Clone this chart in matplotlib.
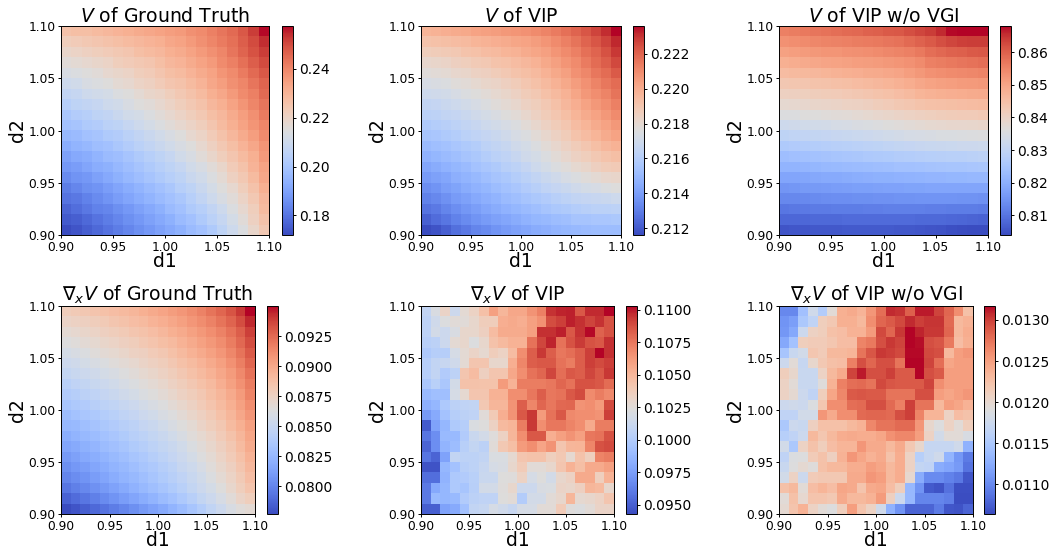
import numpy as np
import matplotlib
matplotlib.use("Agg")
import matplotlib.pyplot as plt

W, H = 1055, 549
titles = [r"$V$ of Ground Truth", r"$V$ of VIP", r"$V$ of VIP w/o VGI",
          r"$\nabla_x V$ of Ground Truth", r"$\nabla_x V$ of VIP", r"$\nabla_x V$ of VIP w/o VGI"]
ticks = [0.90, 0.95, 1.00, 1.05, 1.10]

# values, top row (d2=1.10) first; integer units given by the scale lists below
v_truth = [
[226,227,227,228,229,230,231,232,233,234,235,236,238,239,241,243,245,248,252,257],
[222,223,224,225,226,227,228,229,230,231,233,234,236,238,240,242,244,247,250,254],
[219,220,221,222,223,224,225,227,228,229,231,232,234,236,238,240,243,246,249,252],
[216,217,218,219,220,222,223,224,225,227,229,230,232,234,236,239,241,244,247,250],
[213,214,215,216,218,219,220,222,223,225,227,228,230,232,234,237,239,242,245,248],
[210,211,213,214,215,217,218,220,221,223,225,226,228,230,233,235,238,240,243,246],
[207,208,210,211,212,214,215,217,219,220,222,224,226,228,231,233,236,239,241,245],
[204,206,207,208,210,211,213,215,216,218,220,222,224,226,229,231,234,237,240,243],
[201,203,204,206,207,209,211,212,214,216,218,220,222,224,227,229,232,235,238,242],
[199,200,202,203,205,206,208,210,212,214,216,218,220,222,225,228,231,234,237,240],
[196,197,199,200,202,203,205,207,209,211,213,215,218,220,223,226,229,232,235,239],
[193,195,196,198,199,201,203,205,207,209,211,213,215,218,221,224,227,230,233,237],
[190,192,193,195,197,198,200,202,204,206,208,211,213,216,219,222,225,228,231,236],
[188,189,191,193,194,196,198,200,202,204,206,208,211,213,216,219,223,226,230,234],
[185,187,188,190,192,194,196,198,200,202,204,206,209,211,214,217,221,224,228,233],
[182,184,186,187,189,191,193,195,197,199,201,204,206,209,212,215,218,222,226,231],
[180,181,183,185,187,189,191,193,195,197,199,201,204,207,210,213,216,220,224,229],
[177,179,181,183,184,186,188,190,192,194,197,199,202,204,207,210,214,218,222,228],
[175,176,178,180,182,184,186,188,190,192,194,197,199,202,205,208,212,216,221,226],
[172,174,176,178,180,182,184,186,188,190,192,194,197,199,202,206,210,214,219,224],
]
v_vip = [
[2197,2198,2199,2200,2201,2203,2204,2205,2206,2207,2208,2210,2212,2214,2217,2220,2223,2227,2231,2236],
[2191,2192,2193,2194,2195,2197,2198,2199,2200,2202,2203,2205,2207,2210,2213,2216,2220,2223,2227,2232],
[2186,2187,2188,2189,2191,2192,2194,2195,2197,2198,2200,2202,2204,2207,2210,2213,2217,2220,2224,2229],
[2181,2182,2183,2185,2186,2188,2189,2191,2192,2194,2196,2198,2201,2204,2207,2210,2214,2218,2221,2226],
[2177,2178,2179,2181,2182,2184,2185,2187,2189,2191,2193,2195,2198,2201,2204,2208,2211,2215,2218,2222],
[2173,2174,2175,2177,2178,2180,2182,2183,2185,2187,2190,2192,2195,2198,2201,2205,2208,2212,2215,2218],
[2169,2170,2171,2173,2175,2176,2178,2180,2182,2184,2187,2189,2192,2195,2198,2202,2206,2209,2212,2216],
[2165,2166,2168,2169,2171,2173,2175,2177,2179,2181,2184,2186,2189,2192,2196,2199,2203,2206,2209,2213],
[2162,2163,2165,2166,2168,2170,2172,2174,2176,2178,2181,2184,2187,2190,2193,2197,2200,2203,2206,2210],
[2158,2160,2161,2163,2165,2167,2169,2171,2173,2175,2178,2181,2184,2187,2190,2194,2197,2200,2203,2206],
[2155,2156,2158,2160,2162,2164,2166,2168,2170,2173,2175,2178,2181,2184,2187,2191,2194,2197,2200,2203],
[2151,2153,2154,2156,2158,2160,2163,2165,2167,2170,2172,2175,2178,2181,2184,2187,2190,2193,2196,2198],
[2147,2149,2151,2153,2155,2157,2160,2162,2164,2167,2170,2172,2175,2178,2181,2184,2186,2189,2191,2193],
[2143,2145,2147,2149,2151,2154,2156,2158,2161,2163,2166,2169,2172,2175,2177,2180,2182,2185,2187,2188],
[2139,2141,2143,2146,2148,2150,2153,2155,2157,2160,2162,2165,2168,2170,2173,2175,2177,2179,2181,2182],
[2135,2137,2140,2142,2145,2147,2149,2152,2154,2156,2159,2161,2164,2166,2168,2170,2172,2173,2175,2176],
[2131,2133,2136,2139,2141,2144,2146,2148,2151,2153,2155,2157,2159,2161,2163,2165,2166,2167,2168,2169],
[2127,2129,2132,2135,2138,2140,2143,2145,2147,2149,2151,2153,2155,2157,2158,2160,2161,2162,2162,2163],
[2122,2125,2128,2131,2134,2137,2139,2141,2143,2145,2147,2149,2150,2152,2153,2155,2155,2156,2156,2157],
[2116,2118,2122,2126,2129,2132,2134,2137,2139,2141,2143,2145,2146,2148,2149,2150,2151,2152,2152,2152],
]
v_novgi = [
[8555,8560,8565,8570,8575,8580,8585,8590,8595,8600,8605,8610,8620,8630,8640,8655,8675,8680,8680,8680],
[8530,8535,8540,8545,8550,8553,8556,8560,8563,8566,8570,8575,8585,8595,8605,8620,8630,8635,8640,8640],
[8505,8510,8515,8520,8525,8527,8530,8533,8536,8540,8545,8550,8555,8565,8580,8590,8595,8600,8605,8610],
[8480,8485,8490,8495,8500,8503,8506,8510,8513,8516,8520,8525,8530,8540,8555,8560,8565,8570,8575,8580],
[8455,8460,8463,8466,8470,8475,8480,8484,8488,8492,8496,8500,8510,8520,8530,8535,8540,8543,8546,8550],
[8430,8433,8436,8440,8444,8448,8452,8456,8460,8465,8470,8478,8485,8495,8503,8508,8512,8515,8518,8520],
[8405,8408,8411,8415,8418,8422,8426,8430,8435,8440,8447,8454,8462,8470,8475,8480,8483,8486,8488,8490],
[8380,8383,8386,8390,8393,8396,8400,8404,8409,8415,8421,8428,8434,8440,8445,8449,8452,8454,8456,8458],
[8355,8357,8360,8362,8365,8368,8372,8376,8381,8386,8392,8397,8402,8407,8412,8416,8418,8420,8422,8425],
[8325,8328,8331,8334,8337,8340,8344,8348,8352,8357,8362,8367,8372,8376,8380,8383,8385,8387,8389,8392],
[8295,8298,8301,8304,8307,8310,8314,8318,8322,8327,8331,8336,8340,8344,8347,8350,8352,8354,8356,8358],
[8265,8268,8271,8274,8277,8280,8283,8287,8291,8295,8299,8303,8307,8310,8313,8316,8318,8320,8322,8325],
[8235,8238,8241,8244,8247,8250,8253,8257,8260,8263,8266,8270,8273,8276,8279,8281,8283,8285,8287,8290],
[8210,8212,8215,8217,8220,8223,8226,8229,8232,8235,8237,8240,8242,8244,8246,8248,8250,8252,8254,8256],
[8180,8182,8185,8187,8190,8192,8195,8198,8200,8203,8205,8207,8209,8211,8213,8215,8216,8217,8218,8219],
[8155,8157,8160,8162,8164,8166,8168,8170,8172,8174,8176,8177,8178,8179,8180,8181,8181,8182,8182,8182],
[8130,8132,8134,8136,8138,8140,8142,8143,8145,8146,8147,8148,8149,8150,8150,8150,8150,8149,8148,8147],
[8105,8107,8109,8110,8112,8113,8114,8115,8116,8117,8118,8118,8118,8118,8117,8116,8115,8114,8113,8112],
[8080,8081,8082,8083,8084,8085,8086,8086,8087,8087,8087,8087,8086,8085,8084,8083,8081,8079,8077,8075],
[8055,8056,8057,8058,8059,8059,8060,8060,8060,8060,8060,8059,8058,8056,8054,8051,8047,8043,8040,8040],
]
g_truth = [
[879,881,883,885,887,889,891,893,896,899,902,905,908,912,916,921,926,932,940,950],
[873,875,877,879,881,884,886,889,891,894,897,900,904,908,912,916,921,927,934,944],
[868,870,872,874,877,879,881,884,886,889,892,896,899,903,907,911,916,922,929,938],
[863,865,867,869,872,874,877,879,882,885,888,891,895,899,903,907,912,918,925,934],
[858,860,862,865,867,869,872,875,877,880,883,887,891,895,899,903,908,914,921,930],
[853,855,858,860,862,865,867,870,873,876,879,883,887,890,894,899,904,910,917,926],
[848,851,853,855,858,860,863,866,869,872,875,879,883,887,891,895,900,906,913,922],
[843,846,848,851,853,856,859,862,865,868,871,875,879,883,887,891,897,903,910,918],
[839,841,844,846,849,852,855,858,861,864,867,871,875,879,883,888,893,899,906,915],
[834,837,839,842,845,847,850,853,857,860,863,867,871,875,880,885,890,896,903,911],
[829,832,835,837,840,843,846,849,853,856,860,863,867,872,876,881,887,893,900,908],
[825,827,830,833,836,839,842,845,849,852,856,860,864,868,873,878,883,890,896,904],
[820,823,826,829,832,835,838,842,845,848,852,856,860,865,869,874,880,886,893,901],
[815,818,821,824,828,831,834,838,841,845,848,852,856,861,866,871,877,883,890,898],
[810,813,817,820,823,827,830,834,837,841,845,849,853,858,863,868,874,880,887,895],
[805,809,812,816,819,823,826,830,834,837,841,845,850,854,859,865,871,877,884,892],
[800,804,807,811,815,819,823,826,830,834,838,842,846,851,856,862,868,874,881,889],
[794,798,802,806,810,814,818,822,826,830,834,838,843,848,853,858,864,871,878,885],
[786,790,794,798,803,807,811,815,819,823,828,832,837,842,848,853,859,866,873,878],
[777,781,785,789,793,797,801,805,810,814,818,823,828,834,840,847,853,860,865,868],
]
g_vip = [
[1008,1020,1032,1013,1027,1033,1045,1060,1050,1057,1057,1065,1072,1095,1098,1099,1085,1097,1097,1103],
[1006,1015,1022,1025,1025,1030,1037,1037,1054,1056,1054,1060,1066,1088,1092,1099,1096,1091,1095,1087],
[1006,1017,1013,1020,1030,1030,1035,1047,1055,1055,1055,1060,1096,1096,1099,1085,1095,1102,1082,1087],
[1003,1005,1013,1027,1030,1022,1030,1044,1048,1052,1052,1077,1090,1098,1077,1087,1093,1087,1085,1096],
[998,1002,1002,1018,1027,1032,1028,1037,1033,1047,1067,1083,1094,1083,1075,1078,1083,1092,1103,1096],
[1002,1008,1011,1015,1027,1042,1042,1030,1030,1054,1070,1083,1085,1085,1077,1073,1083,1092,1089,1092],
[1002,1008,1000,1006,1042,1047,1035,1042,1042,1057,1067,1077,1081,1090,1078,1085,1083,1090,1085,1094],
[997,1004,997,1017,1044,1044,1043,1043,1062,1052,1073,1073,1073,1075,1081,1077,1087,1087,1085,1079],
[989,992,992,1018,1028,1042,1042,1052,1052,1067,1067,1075,1083,1075,1077,1085,1089,1068,1073,1069],
[983,987,998,1005,1007,1008,1040,1050,1050,1065,1083,1070,1081,1075,1080,1081,1065,1067,1062,1089],
[973,981,994,1002,1005,1007,1025,1039,1054,1065,1085,1094,1062,1077,1085,1069,1067,1067,1065,1092],
[948,977,987,999,1002,1021,1023,1034,1048,1051,1073,1094,1067,1075,1075,1071,1067,1056,1073,1073],
[958,968,989,989,1000,1012,1017,1024,1034,1050,1067,1085,1085,1054,1060,1065,1060,1075,1077,1087],
[952,968,986,991,1003,1009,1005,1025,1040,1046,1062,1067,1058,1065,1042,1050,1051,1070,1087,1089],
[958,952,977,1008,1006,1006,1008,1021,1021,1028,1042,1044,1044,1036,1040,1028,1044,1036,1071,1073],
[946,946,987,994,1003,1006,1011,1018,1020,1030,1038,1026,1026,1030,1042,1052,1046,1056,1056,1060],
[956,956,985,998,1000,1004,1012,1012,1023,1024,1033,1018,1023,1017,1030,1034,1056,1056,1036,1052],
[960,980,987,998,996,1003,1017,1017,1024,1030,1013,1013,1020,1021,1032,1031,1035,1050,1048,1030],
[960,989,987,989,1000,1005,1007,1007,1023,1026,1001,1017,1017,1026,1030,1050,1028,1030,1033,1042],
[950,950,977,981,993,1008,1010,1018,1015,1011,1018,1018,1026,1026,1038,1024,1022,1026,1032,1032],
]
g_novgi = [
[1100,1100,1143,1178,1155,1195,1238,1242,1235,1255,1278,1308,1305,1285,1312,1312,1298,1282,1260,1225],
[1108,1115,1150,1165,1212,1218,1238,1238,1232,1260,1282,1288,1296,1308,1300,1304,1304,1280,1232,1236],
[1110,1122,1175,1208,1212,1225,1228,1236,1236,1252,1296,1282,1303,1317,1310,1303,1303,1282,1232,1240],
[1122,1145,1212,1215,1215,1220,1228,1228,1266,1272,1293,1303,1298,1317,1315,1293,1290,1272,1228,1238],
[1148,1172,1180,1220,1215,1232,1232,1234,1275,1290,1303,1300,1296,1316,1316,1296,1293,1232,1250,1255],
[1175,1195,1170,1202,1218,1226,1228,1268,1293,1282,1293,1293,1275,1317,1317,1298,1278,1245,1250,1250],
[1212,1202,1172,1172,1207,1232,1242,1298,1312,1293,1293,1300,1288,1288,1317,1293,1288,1250,1250,1250],
[1207,1195,1172,1172,1192,1236,1268,1278,1280,1275,1296,1290,1288,1288,1288,1298,1260,1250,1250,1250],
[1207,1198,1175,1165,1212,1245,1264,1288,1290,1288,1288,1275,1275,1275,1293,1293,1250,1245,1250,1255],
[1175,1178,1175,1188,1220,1260,1260,1278,1280,1293,1293,1280,1268,1300,1275,1275,1232,1250,1245,1236],
[1165,1165,1180,1180,1255,1242,1260,1260,1280,1282,1282,1280,1293,1300,1266,1234,1234,1207,1228,1224],
[1150,1175,1172,1210,1225,1225,1225,1232,1236,1264,1275,1275,1280,1280,1255,1202,1190,1207,1195,1212],
[1158,1165,1175,1232,1220,1232,1240,1242,1240,1240,1245,1258,1264,1264,1250,1207,1180,1195,1195,1185],
[1180,1150,1207,1224,1212,1228,1234,1234,1255,1242,1242,1232,1242,1218,1202,1170,1170,1170,1178,1130],
[1165,1188,1190,1215,1224,1210,1236,1255,1245,1236,1242,1224,1240,1207,1158,1170,1178,1132,1110,1092],
[1172,1190,1198,1192,1225,1232,1232,1240,1240,1250,1245,1232,1240,1207,1168,1165,1125,1120,1112,1087],
[1180,1207,1175,1215,1218,1218,1218,1242,1242,1255,1250,1232,1240,1200,1125,1102,1102,1096,1090,1070],
[1225,1232,1195,1228,1234,1228,1245,1242,1222,1242,1245,1228,1212,1135,1108,1072,1068,1086,1066,1066],
[1195,1225,1200,1222,1222,1218,1242,1232,1232,1236,1252,1210,1175,1135,1098,1098,1098,1094,1065,1065],
[1198,1222,1236,1207,1195,1190,1212,1250,1222,1207,1178,1130,1108,1078,1078,1078,1092,1070,1068,1078],
]
grids = [v_truth, v_vip, v_novgi, g_truth, g_vip, g_novgi]
scales = [1e-3, 1e-4, 1e-4, 1e-4, 1e-4, 1e-5]
vlims = [(0.172, 0.2575), (0.2116, 0.2236), (0.804, 0.868),
         (0.0777, 0.0950), (0.0943, 0.1103), (0.01064, 0.01317)]
cticks = [[0.18, 0.20, 0.22, 0.24],
          [0.212, 0.214, 0.216, 0.218, 0.220, 0.222],
          [0.81, 0.82, 0.83, 0.84, 0.85, 0.86],
          [0.0800, 0.0825, 0.0850, 0.0875, 0.0900, 0.0925],
          [0.0950, 0.0975, 0.1000, 0.1025, 0.1050, 0.1075, 0.1100],
          [0.0110, 0.0115, 0.0120, 0.0125, 0.0130]]
cfmt = ["%.2f", "%.3f", "%.2f", "%.4f", "%.4f", "%.4f"]

# pixel boxes: (x0, x1, y0, y1) for image and colorbar
boxes = [(61, 269, 26, 235), (421, 621, 26, 235), (779, 988, 26, 235),
         (61, 255, 306, 514), (421, 614, 306, 514), (779, 973, 306, 514)]
cboxes = [(282, 293), (633, 644), (1000, 1011), (267, 278), (626, 637), (984, 995)]

fig = plt.figure(figsize=(W / 100, H / 100), dpi=100)


def add(x0, x1, y0, y1):
    return fig.add_axes([x0 / W, 1 - y1 / H, (x1 - x0) / W, (y1 - y0) / H])


for i in range(6):
    x0, x1, y0, y1 = boxes[i]
    ax = add(x0, x1, y0, y1)
    data = np.array(grids[i], dtype=float) * scales[i]
    im = ax.imshow(data, cmap="coolwarm", extent=[0.90, 1.10, 0.90, 1.10], aspect="auto",
                   vmin=vlims[i][0], vmax=vlims[i][1], interpolation="nearest")
    ax.set_xticks(ticks)
    ax.set_yticks(ticks)
    ax.set_xticklabels(["%.2f" % t for t in ticks], fontsize=8.8)
    ax.set_yticklabels(["%.2f" % t for t in ticks], fontsize=8.8)
    ax.tick_params(length=2.5, width=0.7, pad=1.5)
    ax.set_xlabel("d1", fontsize=13.5, labelpad=-1)
    ax.set_ylabel("d2", fontsize=13.5, labelpad=1)
    ax.set_title(titles[i], fontsize=13.6, pad=2.5)
    for s in ax.spines.values():
        s.set_linewidth(0.7)
    cax = add(cboxes[i][0], cboxes[i][1], y0, y1)
    cb = fig.colorbar(im, cax=cax, ticks=cticks[i], format=cfmt[i])
    cb.ax.tick_params(labelsize=10, length=2.5, width=0.7, pad=2)
    cb.outline.set_linewidth(0.7)

fig.savefig("out.png", dpi=100)
